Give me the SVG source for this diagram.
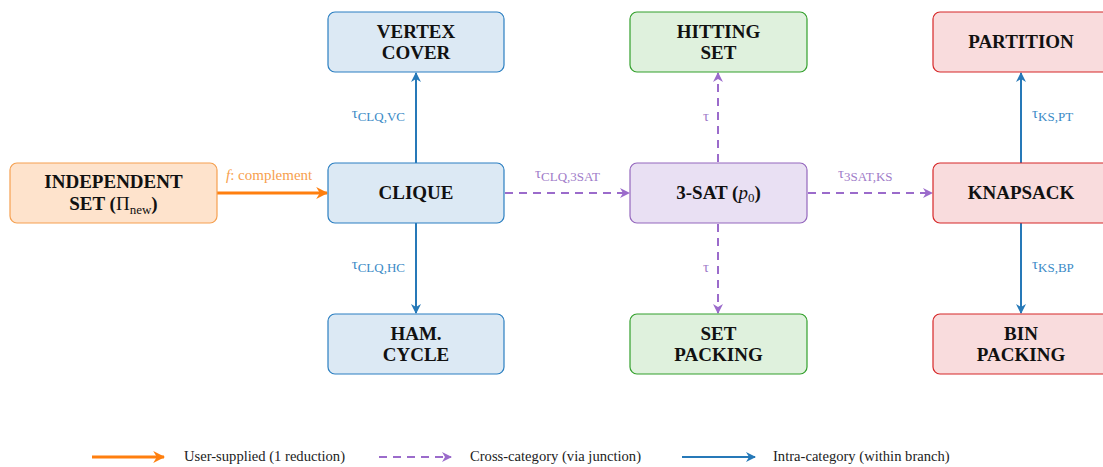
<svg xmlns="http://www.w3.org/2000/svg" width="1103" height="467" viewBox="0 0 1103 467">
  <style>
    .node rect { stroke-width: 1.2; }
    .blue rect { fill: #dce9f4; stroke: #2b7fc1; }
    .green rect { fill: #dff1dd; stroke: #33a02c; }
    .purple rect { fill: #e9e0f3; stroke: #9467bd; }
    .red rect { fill: #f9dcdd; stroke: #d62728; }
    .orange rect { fill: #fee3cc; stroke: #f5a050; }
    .title { font-family: "Liberation Serif", "DejaVu Serif", serif; font-weight: bold; font-size: 19px; fill: #111; text-anchor: middle; }
    .lbl { font-family: "Liberation Serif", "DejaVu Serif", serif; font-size: 15px; }
    .lbl .sub { font-size: 13px; }
    .bl { fill: #3a8ac6; }
    .pl { fill: #a07cc9; }
    .ol { fill: #f7a04e; }
    .legend { font-family: "Liberation Serif", "DejaVu Serif", serif; font-size: 14.6px; fill: #222; }
    .intra { stroke: #2679b8; stroke-width: 2; fill: none; }
    .cross { stroke: #9b6bcb; stroke-width: 2; fill: none; stroke-dasharray: 8 6; }
    .user { stroke: #ff7f0e; stroke-width: 3; fill: none; }
  </style>
  <defs>
    <marker id="ahBlue" viewBox="0 0 10 10" refX="9" refY="5" markerWidth="5" markerHeight="5" orient="auto" markerUnits="strokeWidth">
      <path d="M0,0 L10,5 L0,10 L3,5 Z" fill="#2679b8"/>
    </marker>
    <marker id="ahPurple" viewBox="0 0 10 10" refX="9" refY="5" markerWidth="5" markerHeight="5" orient="auto" markerUnits="strokeWidth">
      <path d="M0,0 L10,5 L0,10 L3,5 Z" fill="#9b6bcb"/>
    </marker>
    <marker id="ahOrange" viewBox="0 0 10 10" refX="9" refY="5" markerWidth="4" markerHeight="4" orient="auto" markerUnits="strokeWidth">
      <path d="M0,0 L10,5 L0,10 L3,5 Z" fill="#ff7f0e"/>
    </marker>
  </defs>

  <!-- reductions -->
  <g id="connectors">
    <line class="user" x1="217" y1="193" x2="327" y2="193" marker-end="url(#ahOrange)"/>
    <line class="intra" x1="416" y1="163" x2="416" y2="73" marker-end="url(#ahBlue)"/>
    <line class="intra" x1="416" y1="223" x2="416" y2="313" marker-end="url(#ahBlue)"/>
    <line class="cross" x1="505" y1="193" x2="629" y2="193" marker-end="url(#ahPurple)"/>
    <line class="cross" x1="808" y1="193" x2="932" y2="193" marker-end="url(#ahPurple)"/>
    <line class="cross" x1="718" y1="162" x2="718" y2="73" marker-end="url(#ahPurple)"/>
    <line class="cross" x1="718" y1="224" x2="718" y2="313" marker-end="url(#ahPurple)"/>
    <line class="intra" x1="1021" y1="163" x2="1021" y2="73" marker-end="url(#ahBlue)"/>
    <line class="intra" x1="1021" y1="223" x2="1021" y2="313" marker-end="url(#ahBlue)"/>

    <text class="lbl ol" x="226" y="180"><tspan font-style="italic">f</tspan>: complement</text>
    <text class="lbl bl" x="405" y="118" text-anchor="end">τ<tspan class="sub" dy="3">CLQ,VC</tspan></text>
    <text class="lbl bl" x="405" y="269" text-anchor="end">τ<tspan class="sub" dy="3">CLQ,HC</tspan></text>
    <text class="lbl pl" x="535" y="178">τ<tspan class="sub" dy="3">CLQ,3SAT</tspan></text>
    <text class="lbl pl" x="838" y="178">τ<tspan class="sub" dy="3">3SAT,KS</tspan></text>
    <text class="lbl pl" x="709" y="121" text-anchor="end" font-size="12">τ</text>
    <text class="lbl pl" x="709" y="272" text-anchor="end" font-size="12">τ</text>
    <text class="lbl bl" x="1032" y="118">τ<tspan class="sub" dy="3">KS,PT</tspan></text>
    <text class="lbl bl" x="1032" y="269">τ<tspan class="sub" dy="3">KS,BP</tspan></text>
  </g>

  <g id="independent-set" class="node orange">
    <rect x="10" y="163" width="207" height="60" rx="7"/>
    <text class="title" x="113.5" y="188">INDEPENDENT</text>
    <text class="title" x="113.5" y="210">SET (<tspan font-weight="normal">Π</tspan><tspan font-size="13" font-weight="normal" dy="4">new</tspan><tspan dy="-4">)</tspan></text>
  </g>
  <g id="clique" class="node blue">
    <rect x="328" y="163" width="176" height="60" rx="7"/>
    <text class="title" x="416" y="199">CLIQUE</text>
  </g>
  <g id="vertex-cover" class="node blue">
    <rect x="328" y="12" width="176" height="60" rx="7"/>
    <text class="title" x="416" y="38">VERTEX</text>
    <text class="title" x="416" y="59">COVER</text>
  </g>
  <g id="ham-cycle" class="node blue">
    <rect x="328" y="314" width="176" height="60" rx="7"/>
    <text class="title" x="416" y="340">HAM.</text>
    <text class="title" x="416" y="361">CYCLE</text>
  </g>
  <g id="three-sat" class="node purple">
    <rect x="630" y="163" width="177" height="60" rx="7"/>
    <text class="title" x="718.5" y="199">3-SAT (<tspan font-style="italic" font-weight="normal">p</tspan><tspan font-size="13" font-weight="normal" dy="3">0</tspan><tspan dy="-3">)</tspan></text>
  </g>
  <g id="hitting-set" class="node green">
    <rect x="630" y="12" width="177" height="60" rx="7"/>
    <text class="title" x="718.5" y="38">HITTING</text>
    <text class="title" x="718.5" y="59">SET</text>
  </g>
  <g id="set-packing" class="node green">
    <rect x="630" y="314" width="177" height="60" rx="7"/>
    <text class="title" x="718.5" y="340">SET</text>
    <text class="title" x="718.5" y="361">PACKING</text>
  </g>
  <g id="partition" class="node red">
    <rect x="933" y="12" width="177" height="60" rx="7"/>
    <text class="title" x="1021" y="48">PARTITION</text>
  </g>
  <g id="knapsack" class="node red">
    <rect x="933" y="163" width="177" height="60" rx="7"/>
    <text class="title" x="1021" y="199">KNAPSACK</text>
  </g>
  <g id="bin-packing" class="node red">
    <rect x="933" y="314" width="177" height="60" rx="7"/>
    <text class="title" x="1021" y="340">BIN</text>
    <text class="title" x="1021" y="361">PACKING</text>
  </g>

  <!-- key -->
  <g id="legend">
    <line class="user" x1="92" y1="457" x2="164" y2="457" marker-end="url(#ahOrange)"/>
    <text class="legend" x="184" y="461">User-supplied (1 reduction)</text>
    <line class="cross" x1="379" y1="457" x2="451" y2="457" marker-end="url(#ahPurple)"/>
    <text class="legend" x="470" y="461">Cross-category (via junction)</text>
    <line class="intra" x1="682" y1="457" x2="755" y2="457" marker-end="url(#ahBlue)"/>
    <text class="legend" x="773" y="461">Intra-category (within branch)</text>
  </g>
</svg>
